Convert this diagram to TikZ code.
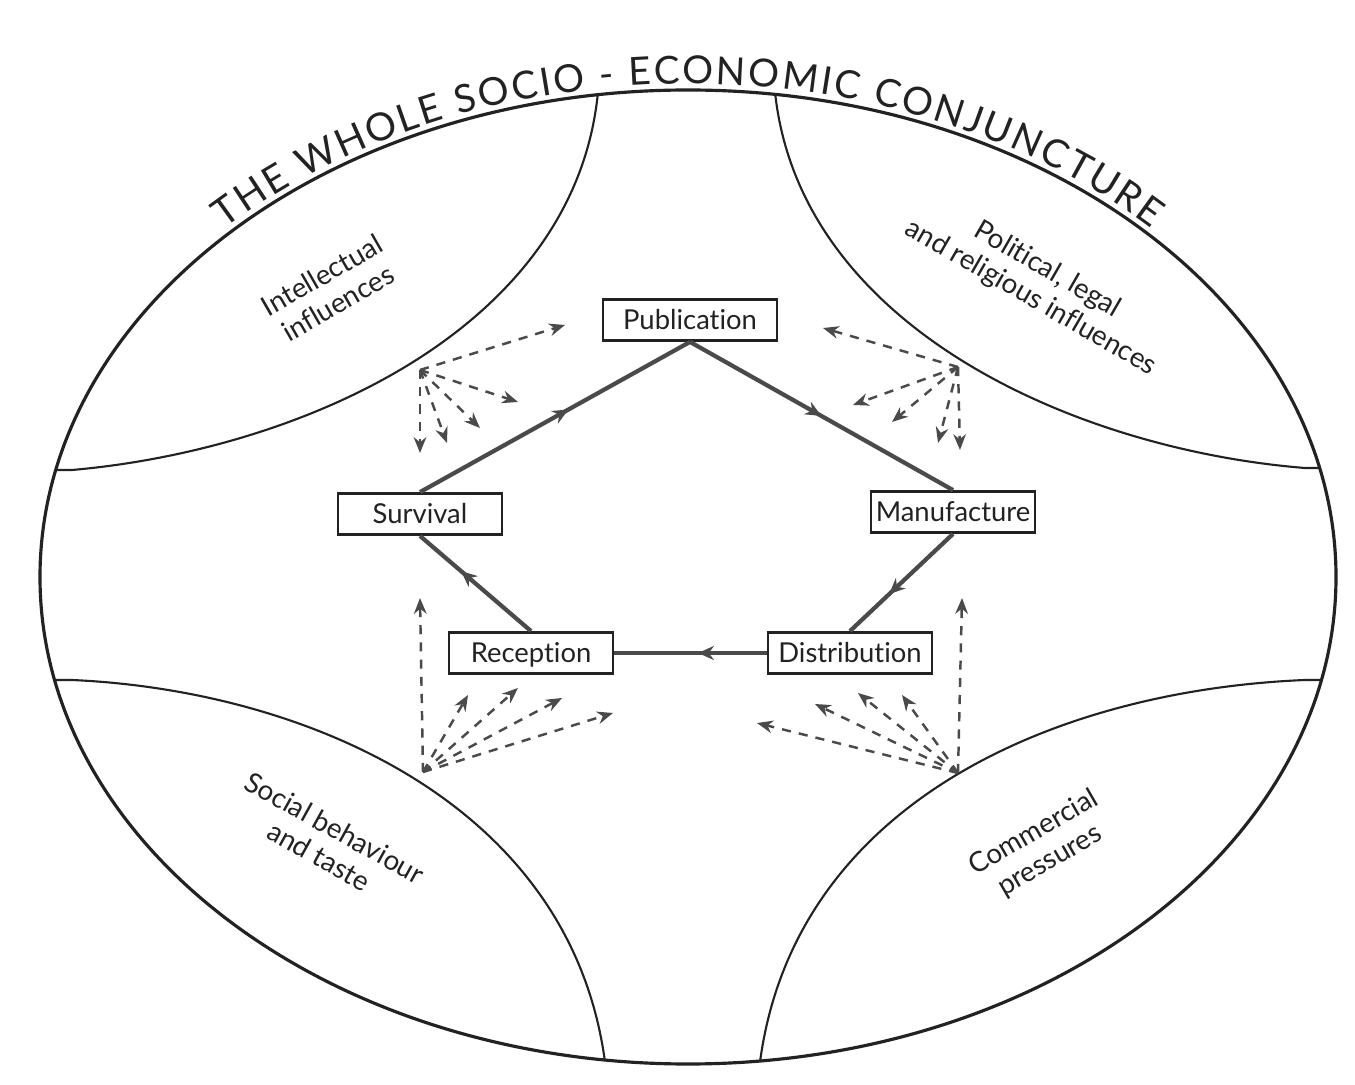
\documentclass[tikz,border=0pt]{standalone}
\usepackage{fontspec}
\setmainfont{Lato}[Ligatures={NoCommon}]
\usetikzlibrary{arrows.meta,decorations.markings,decorations.text}

\definecolor{ink}{HTML}{222222}
\definecolor{lead}{HTML}{4A4A4A}
\newcommand\titlefont{\fontsize{11}{13}\selectfont}

\tikzset{
  box/.style={draw=ink,line width=0.8pt,fill=white,text=ink,minimum width=16.4mm,
    minimum height=4.1mm,inner sep=0pt,text height=2.2mm,text depth=0.2mm,
    font=\fontsize{7.8}{9}\selectfont},
  flow/.style={draw=lead,line width=1.2pt,postaction={decorate},
    decoration={markings,mark=at position #1 with {\arrow{Stealth[length=4.5pt,width=4pt]}}}},
  flow/.default=0.5,
  push/.style={draw=lead,line width=0.7pt,dash pattern=on 2.6pt off 2.3pt,
    -{Stealth[length=4.5pt,width=3.6pt]}},
  zone/.style={font=\fontsize{7.9}{9.2}\selectfont,align=center,text=ink,inner sep=1pt},
  rim/.style={draw=ink,line width=0.9pt},
  seam/.style={draw=ink,line width=0.6pt}
}

\begin{document}
\begin{tikzpicture}[x=0.1mm,y=-0.1mm]
\useasboundingbox[fill=white] (0,0) rectangle (1355,1085);

% the whole conjuncture and its four sectors
\draw[rim] (688,577) ellipse [x radius=648,y radius=487];
\begin{scope}
  \clip (688,577) ellipse [x radius=648,y radius=487];
  \draw[seam] (600,70) -- (598,92) .. controls (575,330) and (300,450) .. (72,470) -- (20,470);
  \draw[seam] (773,70) -- (775,92) .. controls (800,330) and (1080,450) .. (1305,468) -- (1350,468);
  \draw[seam] (20,680) -- (72,680) .. controls (300,690) and (570,800) .. (605,1062) -- (606,1085);
  \draw[seam] (1350,680) -- (1305,680) .. controls (1060,690) and (795,800) .. (760,1062) -- (759,1085);
\end{scope}

\path[decorate,decoration={text along path,text align={fit to path},
  text={|\titlefont\color{ink}|THE WHOLE SOCIO - ECONOMIC CONJUNCTURE}}]
  (688,577) ++(-135:655 and 493) arc[start angle=-135,end angle=-45,x radius=655,y radius=493];

\node[zone,rotate=30] (intel) at (330,289) {Intellectual\\influences};
\node[zone,rotate=-30] (polit) at (1039,284) {Political, legal\\and religious influences};
\node[zone,rotate=-29] (social) at (327,842) {Social behaviour\\and taste};
\node[zone,rotate=30] (comm) at (1042,847) {Commercial\\pressures};

% the cycle
\node[box,minimum width=17.4mm] (pub) at (690,320) {Publication};
\node[box] (surv) at (420,514) {Survival};
\node[box] (manu) at (953,512) {Manufacture};
\node[box] (recp) at (531,653) {Reception};
\node[box] (dist) at (850,653) {Distribution};

\draw[flow=0.55] (surv.north) -- (pub.south);
\draw[flow=0.5] (pub.south) -- (manu.north);
\draw[flow=0.62] (manu.south) -- (dist.north);
\draw[flow=0.45] (dist.west) -- (recp.east);
\draw[flow=0.63] (recp.north) -- (surv.south);

% influences
\coordinate (il) at (420,370);
\coordinate (pl) at (958,367);
\coordinate (sl) at (423,772);
\coordinate (cl) at (958,773);
\foreach \x/\y [count=\i] in {565/325,518/402,480/428,447/443,420/453}{
  \coordinate (il\i) at (\x,\y);
  \draw[push] (il) -- (il\i);
}
\foreach \x/\y [count=\i] in {823/328,853/405,892/422,938/443,960/450}{
  \coordinate (pl\i) at (\x,\y);
  \draw[push] (pl) -- (pl\i);
}
\foreach \x/\y [count=\i] in {420/598,468/695,518/688,562/698,613/713}{
  \coordinate (sl\i) at (\x,\y);
  \draw[push] (sl) -- (sl\i);
}
\foreach \x/\y [count=\i] in {962/598,902/695,858/693,815/704,757/723}{
  \coordinate (cl\i) at (\x,\y);
  \draw[push] (cl) -- (cl\i);
}
\end{tikzpicture}
\end{document}
